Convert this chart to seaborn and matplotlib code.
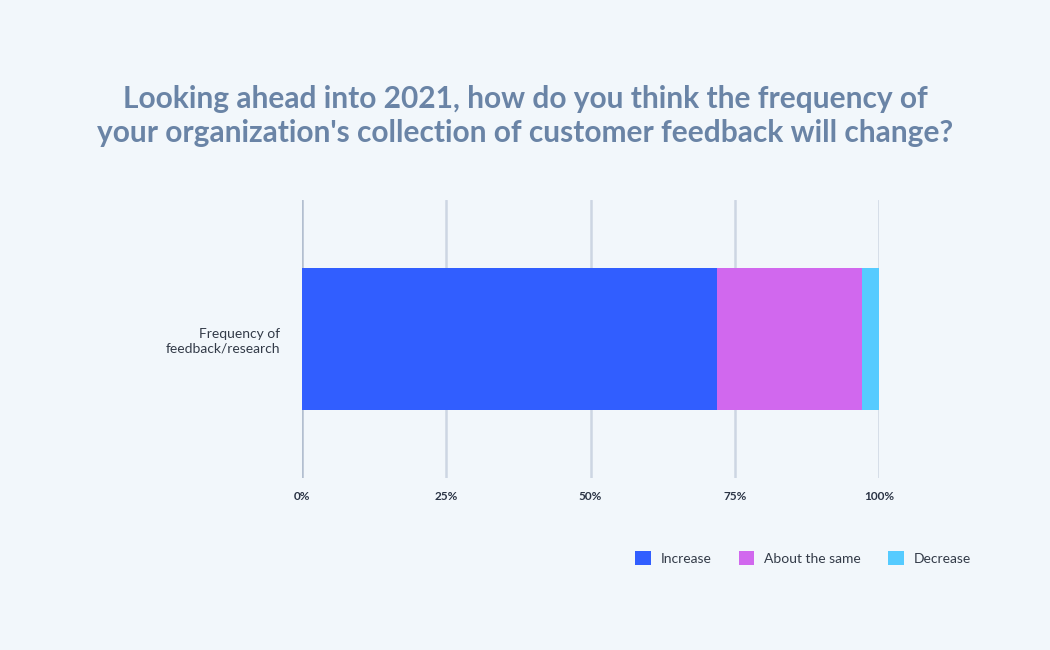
import matplotlib
matplotlib.use("Agg")
import matplotlib.pyplot as plt
import seaborn as sns
import pandas as pd
import numpy as np
from matplotlib.patches import Patch

categories = ["Frequency of\nfeedback/research"]
series_names = ["Increase", "About the same", "Decrease"]
series_values = [72, 25, 3]
series_colors = ["#315EFF", "#D168EE", "#55CBFF"]
tick_values = [0, 25, 50, 75, 100]
tick_labels = ["0%", "25%", "50%", "75%", "100%"]
title = ("Looking ahead into 2021, how do you think the frequency of\n"
         "your organization's collection of customer feedback will change?")

bg = "#F2F7FB"
sns.set_theme(style="white")
plt.rcParams["font.family"] = ["Lato", "DejaVu Sans"]

fig = plt.figure(figsize=(10.5, 6.5), dpi=100, facecolor=bg)
ax = fig.add_axes([302/1050, 1-478/650, 577/1050, 278/650])
ax.set_facecolor(bg)

cum = np.cumsum(series_values)
# draw from the largest cumulative to the smallest so segments stack
for name, c, col in reversed(list(zip(series_names, cum, series_colors))):
    df = pd.DataFrame({"cat": categories, "val": [c]})
    sns.barplot(data=df, x="val", y="cat", orient="h", color=col,
                width=1.0, saturation=1, ax=ax, linewidth=0, zorder=3)

ax.set_xlim(0, 100)
ax.set_ylim(0.985, -0.985)
ax.set_xticks(tick_values)
ax.set_xticklabels(tick_labels, fontsize=8.5, fontweight="bold", color="#2B3445")
ax.tick_params(axis="x", length=0, pad=9)
ax.tick_params(axis="y", length=0, pad=16, labelsize=10, labelcolor="#333B48")
for t in ax.get_yticklabels():
    t.set_horizontalalignment("right")
    t.set_multialignment("right")
ax.set_xlabel("")
ax.set_ylabel("")
for v in tick_values:
    ax.axvline(v, color="#B3BFD0" if v == 0 else "#CDD6E3", lw=1.8, zorder=1)
for s in ax.spines.values():
    s.set_visible(False)

fig.text(0.5, 1-116/650, title, ha="center", va="center", fontsize=21.5,
         fontweight="bold", color="#6A84A6", linespacing=1.25)

handles = [Patch(facecolor=c, edgecolor="none", label=n)
           for n, c in zip(series_names, series_colors)]
fig.legend(handles=handles, loc="center", bbox_to_anchor=(803/1050, 1-558/650),
           ncol=3, frameon=False, fontsize=10, handlelength=1.1, handleheight=1.1,
           columnspacing=2.0, handletextpad=0.7, labelcolor="#333B48")

fig.savefig("out.png", dpi=100, facecolor=bg)
